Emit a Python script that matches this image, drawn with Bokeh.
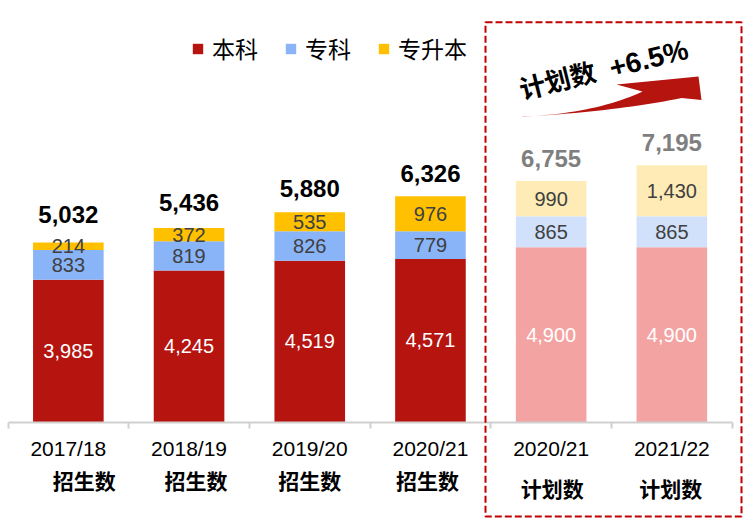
import numpy as np
from bokeh.plotting import figure
from bokeh.models import (ColumnDataSource, FixedTicker, Legend, LegendItem,
                          BoxAnnotation, Range1d)
from bokeh.core.properties import value
from bokeh.embed import file_html
from bokeh.resources import INLINE

# ---------------- data ----------------
years = ["2017/18", "2018/19", "2019/20", "2020/21", "2020/21", "2021/22"]
kinds = ["招生数", "招生数", "招生数", "招生数", "计划数", "计划数"]
benke = [3985, 4245, 4519, 4571, 4900, 4900]
zhuanke = [833, 819, 826, 779, 865, 865]
zhuanshengben = [214, 372, 535, 976, 990, 1430]
totals = [5032, 5436, 5880, 6326, 6755, 7195]
series_names = ["本科", "专科", "专升本"]
growth_prefix = "计划数"
growth_label = "+6.5%"
n_actual = 4  # first four columns are enrolment, last two are plans

# ---------------- style / geometry ----------------
W, H, MARGIN = 745, 518, 0
X0_PX = 7.5          # window px of left category boundary
PX_PER_CAT = 120.7
Y0_PX = 421.5        # window px of the baseline
UNITS_PER_PX = 28.03
BAR_W = 0.585

colors_actual = ["#B5140F", "#8AB4F8", "#FFC000"]
colors_plan = ["#F4A3A3", "#D2E1FB", "#FEEBB6"]
seg_text_colors = ["#FFFFFF", "#404040", "#404040"]
kind_dx_px = [16, 7, 0, -3, 1, -1]
kind_y_px = [479, 479, 479, 479, 487, 487]
total_dy_px = [-28, -26, -24, -23, -23, -23]
NUM_FONT = value("Liberation Sans")
CJK_FONT = value("Noto Sans CJK SC")


def dx(sx):
    return (sx - X0_PX) / PX_PER_CAT


def dy(sy):
    return (Y0_PX - sy) * UNITS_PER_PX


p = figure(width=W, height=H, output_backend="svg", toolbar_location=None,
           x_range=Range1d(dx(MARGIN), dx(MARGIN + W)),
           y_range=Range1d(dy(MARGIN + H), dy(MARGIN)),
           min_border=0, y_axis_location=None, outline_line_color=None)
p.xgrid.visible = False
p.ygrid.visible = False

xs = np.arange(len(years)) + 0.5
layers = [np.array(benke), np.array(zhuanke), np.array(zhuanshengben)]
bottoms = [np.zeros(len(years)), layers[0].astype(float), (layers[0] + layers[1]).astype(float)]

renderers = []
for k in range(3):
    bot = bottoms[k]
    top = bot + layers[k]
    r = p.vbar(x=xs[:n_actual], bottom=bot[:n_actual], top=top[:n_actual], width=BAR_W,
               fill_color=colors_actual[k], line_color=None)
    renderers.append(r)
    p.vbar(x=xs[n_actual:], bottom=bot[n_actual:], top=top[n_actual:], width=BAR_W,
           fill_color=colors_plan[k], line_color=None)
    labels = [f"{v:,}" for v in layers[k]]
    p.text(x=xs, y=bot + layers[k] / 2, text=labels, text_font=NUM_FONT,
           text_font_size="20px", text_color=seg_text_colors[k],
           text_align="center", text_baseline="middle")

# totals
tot_colors = ["#000000"] * n_actual + ["#7F7F7F"] * (len(years) - n_actual)
tot_src = ColumnDataSource(dict(x=xs, y=totals, t=[f"{v:,}" for v in totals],
                                c=tot_colors, off=total_dy_px))
p.text(x="x", y="y", text="t", text_color="c", y_offset="off", source=tot_src,
       text_font=NUM_FONT, text_font_size="24px", text_font_style="bold",
       text_align="center", text_baseline="middle")

# x axis at y=0
ax = p.xaxis[0]
ax.fixed_location = 0
ax.bounds = (0, len(years))
ax.ticker = FixedTicker(ticks=list(xs), minor_ticks=list(range(len(years) + 1)))
ax.major_label_overrides = {float(x): y for x, y in zip(xs, years)}
ax.axis_line_color = "#D0D0D0"
ax.axis_line_width = 2
ax.major_tick_in = 0
ax.major_tick_out = 0
ax.minor_tick_in = 0
ax.minor_tick_out = 6
ax.minor_tick_line_color = "#D0D0D0"
ax.minor_tick_line_width = 2
ax.major_label_text_font = "Liberation Sans"
ax.major_label_text_font_size = "21px"
ax.major_label_text_color = "#000000"
ax.major_label_standoff = 9

# second line of category labels
p.text(x=xs + np.array(kind_dx_px) / PX_PER_CAT, y=[dy(v) for v in kind_y_px], text=kinds,
       text_font=CJK_FONT, text_font_size="21px", text_font_style="bold",
       text_color="#000000", text_align="center", text_baseline="middle")

# dashed box around plans
p.add_layout(BoxAnnotation(left=dx(485), right=dx(741), top=dy(21.7), bottom=dy(516),
                           fill_alpha=0, line_color="#C00000", line_alpha=1.0,
                           line_width=2, line_dash="7 3"))


# arrow swoosh
def qbez(a, c, b, n=24):
    t = np.linspace(0, 1, n)
    x = (1 - t) ** 2 * a[0] + 2 * (1 - t) * t * c[0] + t ** 2 * b[0]
    y = (1 - t) ** 2 * a[1] + 2 * (1 - t) * t * c[1] + t ** 2 * b[1]
    return list(x), list(y)


ux, uy = qbez((519, 116.5), (595, 113), (642, 91))
lx, ly = qbez((681, 97.5), (615, 111), (519, 116.5))
ax_px = ux + [616, 698, 701] + lx
ay_px = uy + [84, 76, 99.5] + ly
p.patch(x=[dx(v) for v in ax_px], y=[dy(v) for v in ay_px], fill_color="#B5140F",
        line_color=None)

p.text(x=[dx(556.7)], y=[dy(78.3)], text=[growth_prefix], angle=14, angle_units="deg",
       text_font=CJK_FONT, text_font_size="26px", text_font_style="bold",
       text_color="#000000", text_align="center", text_baseline="middle")
p.text(x=[dx(648.3)], y=[dy(58.3)], text=[growth_label], angle=14, angle_units="deg",
       text_font=NUM_FONT, text_font_size="28px", text_font_style="bold",
       text_color="#000000", text_align="center", text_baseline="middle")

# legend
legend = Legend(items=[LegendItem(label=n, renderers=[r]) for n, r in zip(series_names, renderers)],
                orientation="horizontal", location=(191, 453), margin=0, padding=0,
                spacing=26, glyph_width=13, glyph_height=13, label_standoff=8,
                label_height=26, label_text_font="Noto Sans CJK SC",
                label_text_font_size="23px", label_text_color="#000000",
                border_line_color=None, background_fill_alpha=0)
p.add_layout(legend)

open("out.html", "w").write(file_html(p, INLINE))
